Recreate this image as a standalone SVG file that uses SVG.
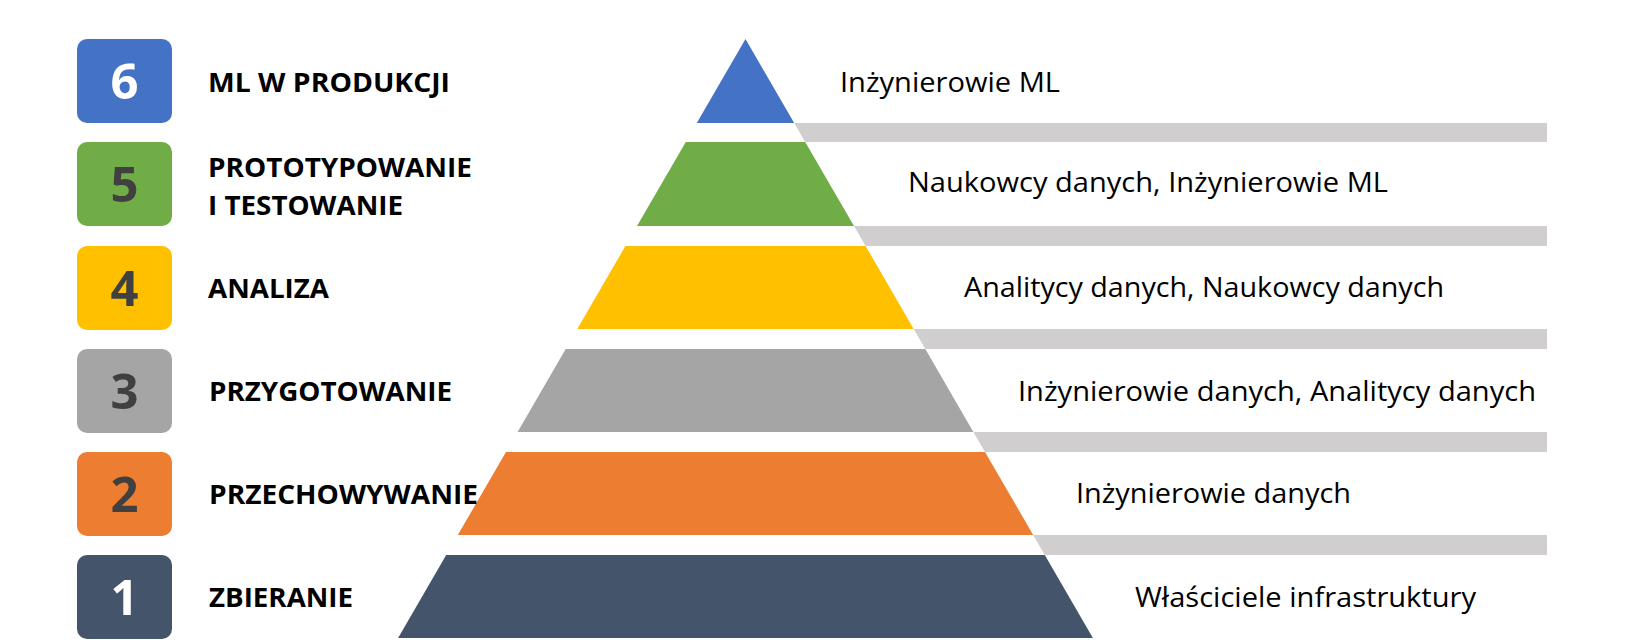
<svg xmlns="http://www.w3.org/2000/svg" width="1630" height="640" viewBox="0 0 1630 640">
  <style>
    .box { stroke: none; }
    .num { font-family: "Open Sans", "Liberation Sans", sans-serif; font-weight: 700; font-size: 49px; text-anchor: middle; }
    .num-light { fill: #ffffff; }
    .num-dark { fill: #404040; }
    .lbl { font-family: "Open Sans", "Liberation Sans", sans-serif; font-weight: 700; font-size: 27px; fill: #000000; }
    .role { font-family: "Open Sans", "Liberation Sans", sans-serif; font-weight: 400; font-size: 28px; fill: #000000; }
    .bar { fill: #D0CECE; }
  </style>
  <rect x="0" y="0" width="1630" height="640" fill="#ffffff"/>

  <g id="separators">
    <polygon class="bar" points="794.2,123 1547,123 1547,142 805.2,142"/>
    <polygon class="bar" points="854.0,226 1547,226 1547,246 865.6,246"/>
    <polygon class="bar" points="913.7,329 1547,329 1547,349 925.3,349"/>
    <polygon class="bar" points="973.4,432 1547,432 1547,452 985.0,452"/>
    <polygon class="bar" points="1033.2,535 1547,535 1547,555 1044.8,555"/>
  </g>

  <g id="tier6">
    <polygon points="745.5,39 794.2,123 696.8,123" fill="#4472C4"/>
    <rect class="box" x="77" y="39" width="95" height="84" rx="10" fill="#4472C4"/>
    <text class="num num-light" x="124.5" y="99">6</text>
    <text class="lbl" x="208" y="92" textLength="242" lengthAdjust="spacingAndGlyphs">ML W PRODUKCJI</text>
    <text class="role" x="840" y="92" textLength="220" lengthAdjust="spacingAndGlyphs">Inżynierowie ML</text>
  </g>

  <g id="tier5">
    <polygon points="685.8,142 805.2,142 854.0,226 637.0,226" fill="#70AD47"/>
    <rect class="box" x="77" y="142" width="95" height="84" rx="10" fill="#70AD47"/>
    <text class="num num-dark" x="124.5" y="202">5</text>
    <text class="lbl" x="208" y="177" textLength="264" lengthAdjust="spacingAndGlyphs">PROTOTYPOWANIE</text>
    <text class="lbl" x="208" y="215" textLength="195" lengthAdjust="spacingAndGlyphs">I TESTOWANIE</text>
    <text class="role" x="908" y="192" textLength="480" lengthAdjust="spacingAndGlyphs">Naukowcy danych, Inżynierowie ML</text>
  </g>

  <g id="tier4">
    <polygon points="625.4,246 865.6,246 913.7,329 577.3,329" fill="#FFC000"/>
    <rect class="box" x="77" y="246" width="95" height="84" rx="10" fill="#FFC000"/>
    <text class="num num-dark" x="124.5" y="306">4</text>
    <text class="lbl" x="208" y="298" textLength="121" lengthAdjust="spacingAndGlyphs">ANALIZA</text>
    <text class="role" x="964" y="297" textLength="480" lengthAdjust="spacingAndGlyphs">Analitycy danych, Naukowcy danych</text>
  </g>

  <g id="tier3">
    <polygon points="565.7,349 925.3,349 973.4,432 517.6,432" fill="#A5A5A5"/>
    <rect class="box" x="77" y="349" width="95" height="84" rx="10" fill="#A5A5A5"/>
    <text class="num num-dark" x="124.5" y="409">3</text>
    <text class="lbl" x="209" y="401" textLength="243" lengthAdjust="spacingAndGlyphs">PRZYGOTOWANIE</text>
    <text class="role" x="1018" y="401" textLength="518" lengthAdjust="spacingAndGlyphs">Inżynierowie danych, Analitycy danych</text>
  </g>

  <g id="tier2">
    <polygon points="506.0,452 985.0,452 1033.2,535 457.8,535" fill="#ED7D31"/>
    <rect class="box" x="77" y="452" width="95" height="84" rx="10" fill="#ED7D31"/>
    <text class="num num-dark" x="124.5" y="512">2</text>
    <text class="lbl" x="209" y="504" textLength="269" lengthAdjust="spacingAndGlyphs">PRZECHOWYWANIE</text>
    <text class="role" x="1076" y="503" textLength="275" lengthAdjust="spacingAndGlyphs">Inżynierowie danych</text>
  </g>

  <g id="tier1">
    <polygon points="446.2,555 1044.8,555 1092.9,638 398.1,638" fill="#44546A"/>
    <rect class="box" x="77" y="555" width="95" height="84" rx="10" fill="#44546A"/>
    <text class="num num-light" x="124.5" y="615">1</text>
    <text class="lbl" x="209" y="607" textLength="144" lengthAdjust="spacingAndGlyphs">ZBIERANIE</text>
    <text class="role" x="1135" y="607" textLength="341" lengthAdjust="spacingAndGlyphs">Właściciele infrastruktury</text>
  </g>
</svg>
